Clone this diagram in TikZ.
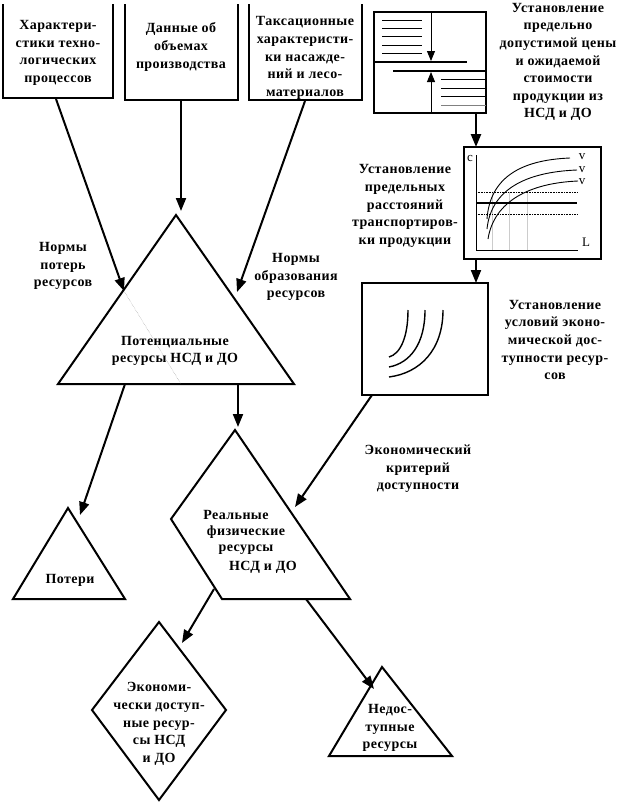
\documentclass[tikz,border=0pt]{standalone}
\usepackage{fontspec}
\setmainfont{Liberation Serif}[LetterSpace=3]
\usetikzlibrary{arrows.meta}
\tikzset{
  ln/.style={line width=2pt, line join=miter},
  thin/.style={line width=0.9pt},
  arr/.style={line width=2pt, -{Triangle[length=13pt,width=10pt]}},
  lbl/.style={font=\fontsize{14}{17.6}\selectfont\bfseries, align=center, inner sep=0pt},
  small/.style={font=\fontsize{13}{14}\selectfont, inner sep=0pt},
}
\begin{document}
\begin{tikzpicture}[x=1pt,y=-1pt]
\useasboundingbox (0,0) rectangle (622,804);
% ---------- top boxes (open at the top) ----------
\draw[ln] (3,4) -- (3,98) -- (113,98) -- (113,4);
\draw[ln] (125,4) -- (125,100) -- (238,100) -- (238,4);
\draw[ln] (249,4) -- (249,100) -- (362,100) -- (362,4);
\node[lbl] (b1) at (58,53) {Характери-\\стики техно-\\логических\\процессов};
\node[lbl] (b2) at (181,47) {Данные об\\объемах\\производства};
\node[lbl] (b3) at (305,58) {Таксационные\\характеристи-\\ки насажде-\\ний и лесо-\\материалов};
\coordinate (b1s) at (56,99);
\coordinate (b2s) at (181,101);
\coordinate (b3s) at (305,101);
% ---------- potential resources triangle ----------
\coordinate (pA) at (176,215);
\coordinate (pL) at (58,384);
\coordinate (pR) at (294,384);
\draw[ln] (pA) -- (pL) -- (pR) -- cycle;
\coordinate (pin1) at (124,291);
\coordinate (pin2) at (237,292);
\coordinate (pin3) at (181,211);
\coordinate (pdot) at (181,384);
\draw[gray, line width=0.4pt, densely dotted] (pin1) -- (pdot);
\node[lbl] (pot) at (175,351) {Потенциальные\\ресурсы НСД и ДО};
\draw[arr] (b1s) -- (pin1);
\draw[arr] (b2s) -- (pin3);
\draw[arr] (b3s) -- (pin2);
\node[lbl] (np) at (63,266) {Нормы\\потерь\\ресурсов};
\node[lbl] (no) at (296,277) {Нормы\\образования\\ресурсов};
% ---------- losses triangle ----------
\coordinate (lA) at (68,508);
\coordinate (lL) at (13,599);
\coordinate (lR) at (125,599);
\draw[ln] (lA) -- (lL) -- (lR) -- cycle;
\node[lbl] (los) at (70,580) {Потери};
\coordinate (pb1) at (125,384);
\coordinate (lin) at (80,515);
\draw[arr] (pb1) -- (lin);
% ---------- real resources ----------
\coordinate (rA) at (235,430);
\coordinate (rL) at (171,519);
\coordinate (rBL) at (222,599);
\coordinate (rBR) at (350,599);
\draw[ln] (rA) -- (rL) -- (rBL) -- (rBR) -- cycle;
\node[lbl] (r1) at (236,515) {Реальные};
\node[lbl] (r2) at (246,532) {физические};
\node[lbl] (r3) at (246,550) {ресурсы};
\node[lbl] (r4) at (263,567) {НСД и ДО};
\coordinate (pb2) at (238,384);
\coordinate (rin) at (238,427);
\draw[arr] (pb2) -- (rin);
% ---------- diamond ----------
\coordinate (dT) at (159,622);
\coordinate (dL) at (92,710);
\coordinate (dR) at (226,710);
\coordinate (dB) at (159,800);
\draw[ln] (dT) -- (dR) -- (dB) -- (dL) -- cycle;
\node[lbl] (eco) at (159,724) {Экономи-\\чески доступ-\\ные ресур-\\сы НСД\\и ДО};
\coordinate (rs1) at (214,589);
\coordinate (din) at (182,643);
\draw[arr] (rs1) -- (din);
% ---------- unavailable triangle ----------
\coordinate (uA) at (382,667);
\coordinate (uL) at (329,756);
\coordinate (uR) at (452,756);
\draw[ln] (uA) -- (uL) -- (uR) -- cycle;
\node[lbl] (un) at (390,728) {Недос-\\тупные\\ресурсы};
\coordinate (rs2) at (306,599);
\coordinate (uin) at (374,689);
\draw[arr] (rs2) -- (uin);
% ---------- top right box: price ----------
\draw[ln] (374,12) rectangle (486,113);
\coordinate (tbs) at (476,113);
\draw[line width=2.4pt] (374,62) -- (467,62);
\draw[line width=2.4pt] (393,71) -- (486,71);
\foreach \yy in {20,28,36,45,53} \draw[thin] (382,\yy) -- (422,\yy);
\foreach \yy in {79,88,96} \draw[thin] (441,\yy) -- (486,\yy);
\draw[thin, gray] (441,105) -- (486,105);
\draw[thin, -{Triangle[length=10pt,width=8pt]}] (431,12) -- (431,61);
\draw[thin, -{Triangle[length=10pt,width=8pt]}] (431,113) -- (431,72);
\node[lbl] (tpx) at (558,62) {Установление\\предельно\\допустимой цены\\и ожидаемой\\стоимости\\продукции из\\НСД и ДО};
% ---------- graph box ----------
\draw[ln] (464,147) rectangle (601,259);
\coordinate (gtop) at (476,147);
\coordinate (gbs) at (476,259);
\draw[arr, line width=2.4pt] (tbs) -- (gtop);
\draw[thin] (476,155) -- (476,250) -- (578,250);
\foreach \xx in {492,509,527} \draw[gray!40, line width=0.5pt] (\xx,192) -- (\xx,250);
\draw[densely dotted, line width=0.6pt] (476,192) -- (577,192);
\draw[densely dotted, line width=0.6pt] (476,214) -- (577,214);
\draw[line width=2.6pt] (476,203) -- (577,203);
\draw[thin] (487,219) .. controls (490,178) and (520,160) .. (570,158);
\draw[thin] (487,229) .. controls (491,190) and (525,172) .. (577,170);
\draw[thin] (488,239) .. controls (494,201) and (530,183) .. (578,181);
\node[small] (gc) at (470,158) {c};
\node[small] (gL) at (586,242) {L};
\node[small] (gv1) at (582,157) {v};
\node[small] (gv2) at (582,170) {v};
\node[small] (gv3) at (582,182) {v};
\node[lbl] (gtx) at (405,206) {Установление\\предельных\\расстояний\\транспортиров-\\ки продукции};
% ---------- arcs box ----------
\draw[ln] (362,283) rectangle (488,395);
\coordinate (atop) at (476,283);
\draw[arr] (gbs) -- (atop);
\draw[line width=1.4pt] (408,310) .. controls (408,338) and (400,354) .. (389,357);
\draw[line width=1.4pt] (425,310) .. controls (425,344) and (410,363) .. (389,367);
\draw[line width=1.4pt] (443,310) .. controls (443,350) and (420,373) .. (389,377);
\node[lbl] (atx) at (555,340) {Установление\\условий эконо-\\мической дос-\\тупности ресур-\\сов};
\coordinate (abs) at (372,395);
\coordinate (rin2) at (295,507);
\draw[arr] (abs) -- (rin2);
\node[lbl] (crit) at (418,469) {Экономический\\критерий\\доступности};
\end{tikzpicture}
\end{document}
